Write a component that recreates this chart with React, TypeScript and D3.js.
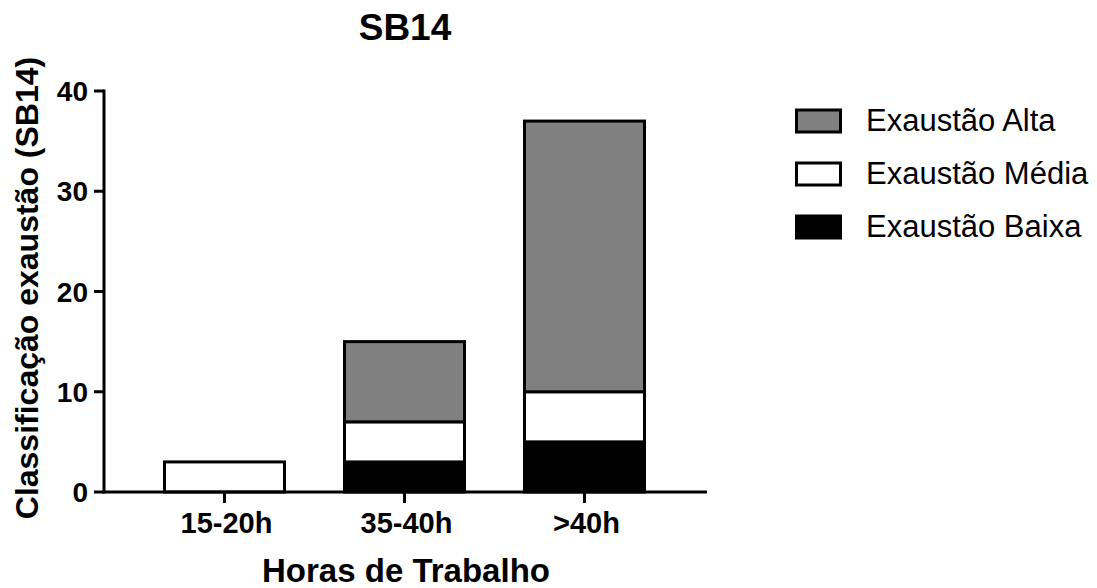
import React from "react";
import * as d3 from "d3";

const categories = ["15-20h", "35-40h", ">40h"];
const seriesNames = ["Exaustão Baixa", "Exaustão Média", "Exaustão Alta"];
const baixa = [0, 3, 5];
const media = [3, 4, 5];
const alta = [0, 8, 27];
const yTicks = [0, 10, 20, 30, 40];
const legendOrder = ["Exaustão Alta", "Exaustão Média", "Exaustão Baixa"];
const colors: Record<string, string> = {
  "Exaustão Baixa": "#000000",
  "Exaustão Média": "#ffffff",
  "Exaustão Alta": "#808080",
};

const W = 1097;
const H = 588;
const FONT = "'Liberation Sans', Arial, Helvetica, sans-serif";

export default function App() {
  const rows = categories.map((c, i) => ({
    cat: c,
    "Exaustão Baixa": baixa[i],
    "Exaustão Média": media[i],
    "Exaustão Alta": alta[i],
  }));
  const stack = d3.stack<any>().keys(seriesNames);
  const layers = stack(rows);

  const x = d3
    .scaleBand<string>()
    .domain(categories)
    .range([104.5, 704.5])
    .paddingInner(1 / 3)
    .paddingOuter(1 / 3);
  const y = d3.scaleLinear().domain([0, 40]).range([492, 91]);

  const x0 = 104;
  const x1 = 707;
  const y0 = y(0);

  return (
    <svg
      width={W}
      height={H}
      style={{ position: "absolute", left: 0, top: 0, background: "#fff" }}
      fontFamily={FONT}
    >
      <rect x={0} y={0} width={W} height={H} fill="#fff" />
      {/* title */}
      <text x={405} y={40} textAnchor="middle" fontSize={37} fontWeight="bold">
        SB14
      </text>

      {/* bars */}
      {layers.map((layer) =>
        layer.map((d, i) => {
          const v = d[1] - d[0];
          if (v <= 0) return null;
          const cat = categories[i];
          return (
            <rect
              key={layer.key + cat}
              x={x(cat)}
              width={x.bandwidth()}
              y={y(d[1])}
              height={y(d[0]) - y(d[1])}
              fill={colors[layer.key]}
              stroke="#000"
              strokeWidth={3}
            />
          );
        })
      )}

      {/* y axis */}
      <line x1={x0} x2={x0} y1={y(40) - 1.5} y2={y0 + 1.5} stroke="#000" strokeWidth={3} />
      {yTicks.map((t) => (
        <g key={t}>
          <line x1={x0 - 10} x2={x0} y1={y(t)} y2={y(t)} stroke="#000" strokeWidth={3} />
          <text
            x={88}
            y={y(t)}
            dy="0.36em"
            textAnchor="end"
            fontSize={28}
            fontWeight="bold"
          >
            {t}
          </text>
        </g>
      ))}

      {/* x axis */}
      <line x1={x0 - 1.5} x2={x1} y1={y0} y2={y0} stroke="#000" strokeWidth={3} />
      {categories.map((c) => {
        const cx = (x(c) as number) + x.bandwidth() / 2;
        return (
          <g key={c}>
            <line x1={cx} x2={cx} y1={y0} y2={y0 + 11} stroke="#000" strokeWidth={3} />
            <text x={cx + 2} y={533} textAnchor="middle" fontSize={29} fontWeight="bold">
              {c}
            </text>
          </g>
        );
      })}

      {/* axis titles */}
      <text x={406} y={582} textAnchor="middle" fontSize={33} fontWeight="bold">
        Horas de Trabalho
      </text>
      <text
        transform={`translate(38, 288) rotate(-90)`}
        textAnchor="middle"
        fontSize={32}
        fontWeight="bold"
      >
        Classificação exaustão (SB14)
      </text>

      {/* legend */}
      {legendOrder.map((name, i) => {
        const cy = 121 + i * 53;
        return (
          <g key={name}>
            <rect
              x={796.5}
              y={cy - 11}
              width={44}
              height={22}
              fill={colors[name]}
              stroke="#000"
              strokeWidth={3}
            />
            <text x={866} y={cy + 10} fontSize={31}>
              {name}
            </text>
          </g>
        );
      })}
    </svg>
  );
}
